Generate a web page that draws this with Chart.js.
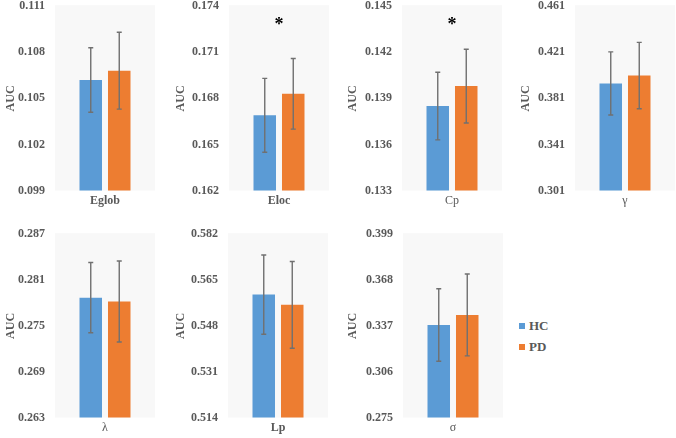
<!DOCTYPE html>
<html>
<head>
<meta charset="utf-8">
<script src="https://cdn.jsdelivr.net/npm/chart.js@4.4.0/dist/chart.umd.min.js"></script>
<style>
  body { margin: 0; background: #fff; width: 676px; height: 438px; position: relative; overflow: hidden; font-family: "Liberation Serif", serif; }
  .panel { position: absolute; }
  .panel canvas { display: block; }
  .legend { position: absolute; left: 519px; top: 315px; color: #595959; font-weight: bold; font-size: 13px; }
  .legend div { display: flex; align-items: center; height: 21px; }
  .legend span.box { width: 6px; height: 6px; margin-right: 4px; display: inline-block; }
</style>
</head>
<body>
<div class="legend">
  <div><span class="box" style="background:#5b9bd5"></span>HC</div>
  <div><span class="box" style="background:#ed7d31"></span>PD</div>
</div>
<script>
// --- data ---
const metrics = ['Eglob', 'Eloc', 'Cp', 'γ', 'λ', 'Lp', 'σ'];
const hcMean = [0.1062, 0.1669, 0.1385, 0.3940, 0.2787, 0.5596, 0.3376];
const hcErr  = [0.0021, 0.0024, 0.0022, 0.0274, 0.0046, 0.0147, 0.0245];
const pdMean = [0.1068, 0.1683, 0.1398, 0.4008, 0.2782, 0.5558, 0.3444];
const pdErr  = [0.0025, 0.0023, 0.0024, 0.0288, 0.0053, 0.0161, 0.0277];
const stars  = ['', '*', '*', '', '', '', ''];
const yTicks = [
  [0.099, 0.102, 0.105, 0.108, 0.111],
  [0.162, 0.165, 0.168, 0.171, 0.174],
  [0.133, 0.136, 0.139, 0.142, 0.145],
  [0.301, 0.341, 0.381, 0.421, 0.461],
  [0.263, 0.269, 0.275, 0.281, 0.287],
  [0.514, 0.531, 0.548, 0.565, 0.582],
  [0.275, 0.306, 0.337, 0.368, 0.399]
];

// --- layout of the small multiples ---
const plotLeft  = [55, 229, 402, 575, 55, 228, 403];
const axisWidth = [55, 59, 60, 60, 55, 58, 61];
const gray = '#595959';
const serif = '"Liberation Serif", "Times New Roman", serif';

// plot area fill
const plotBg = {
  id: 'plotBg',
  beforeDraw(chart) {
    const a = chart.chartArea, ctx = chart.ctx;
    ctx.save();
    ctx.fillStyle = '#f8f8f8';
    ctx.fillRect(a.left, a.top - 1, a.right - a.left, a.bottom - a.top + 1);
    ctx.restore();
  }
};

// error bars + significance star
const errorBars = {
  id: 'errorBars',
  afterDatasetsDraw(chart) {
    const ctx = chart.ctx, y = chart.scales.y;
    ctx.save();
    ctx.strokeStyle = '#707070';
    ctx.lineWidth = 1.4;
    chart.data.datasets.forEach((ds, di) => {
      chart.getDatasetMeta(di).data.forEach((bar, i) => {
        const v = ds.data[i], e = ds.errors[i];
        const top = y.getPixelForValue(v + e), bot = y.getPixelForValue(v - e);
        ctx.beginPath();
        ctx.moveTo(bar.x, top); ctx.lineTo(bar.x, bot);
        ctx.moveTo(bar.x - 2.5, top); ctx.lineTo(bar.x + 2.5, top);
        ctx.moveTo(bar.x - 2.5, bot); ctx.lineTo(bar.x + 2.5, bot);
        ctx.stroke();
      });
    });
    const star = chart.options.plugins.errorBars.star;
    if (star) {
      const x = chart.scales.x.getPixelForValue(0);
      ctx.fillStyle = '#000';
      ctx.font = 'bold 18px ' + serif;
      ctx.textAlign = 'center';
      ctx.textBaseline = 'alphabetic';
      ctx.fillText(star, x, chart.chartArea.top + 24);
    }
    ctx.restore();
  }
};

function drawPanels() {
  metrics.forEach((name, i) => {
    const row = i < 4 ? 0 : 1;
    const w = axisWidth[i];
    const div = document.createElement('div');
    div.className = 'panel';
    // y-axis tick padding (10px) is also added above/below the plot, so shift the canvas up
    div.style.left = (plotLeft[i] - w) + 'px';
    div.style.top = (row === 0 ? -11 : 217) + 'px';
    const canvas = document.createElement('canvas');
    canvas.width = w + 100;
    canvas.height = row === 0 ? 222 : 221;
    div.appendChild(canvas);
    document.body.appendChild(div);

    const ticks = yTicks[i];
    const thin = ['Cp', 'γ', 'λ', 'σ'].includes(name);

    new Chart(canvas.getContext('2d'), {
      type: 'bar',
      data: {
        labels: [name],
        datasets: [
          { label: 'HC', data: [hcMean[i]], errors: [hcErr[i]], backgroundColor: '#5b9bd5' },
          { label: 'PD', data: [pdMean[i]], errors: [pdErr[i]], backgroundColor: '#ed7d31' }
        ]
      },
      options: {
        responsive: false,
        animation: false,
        layout: { padding: 0 },
        categoryPercentage: 0.57,
        barPercentage: 0.79,
        plugins: {
          legend: { display: false },
          tooltip: { enabled: false },
          errorBars: { star: stars[i] }
        },
        scales: {
          x: {
            grid: { display: false, drawTicks: false },
            border: { display: false },
            ticks: {
              padding: 3,
              color: gray,
              font: { family: serif, size: 12, weight: thin ? 'normal' : 'bold' }
            }
          },
          y: {
            min: ticks[0],
            max: ticks[ticks.length - 1],
            grid: { display: false, drawTicks: false },
            border: { display: false },
            afterBuildTicks: (scale) => { scale.ticks = ticks.map(v => ({ value: v })); },
            afterFit: (scale) => { scale.width = w; },
            ticks: {
              padding: 10,
              color: gray,
              font: { family: serif, size: 12, weight: 'bold' },
              callback: (v) => Number(v).toFixed(3)
            },
            title: {
              display: true,
              text: 'AUC',
              color: gray,
              font: { family: serif, size: 12, weight: 'bold' }
            }
          }
        }
      },
      plugins: [plotBg, errorBars]
    });
  });
}

Promise.all([
  document.fonts.load('bold 12px "Liberation Serif"'),
  document.fonts.load('12px "Liberation Serif"')
]).then(drawPanels, drawPanels);
</script>
</body>
</html>
